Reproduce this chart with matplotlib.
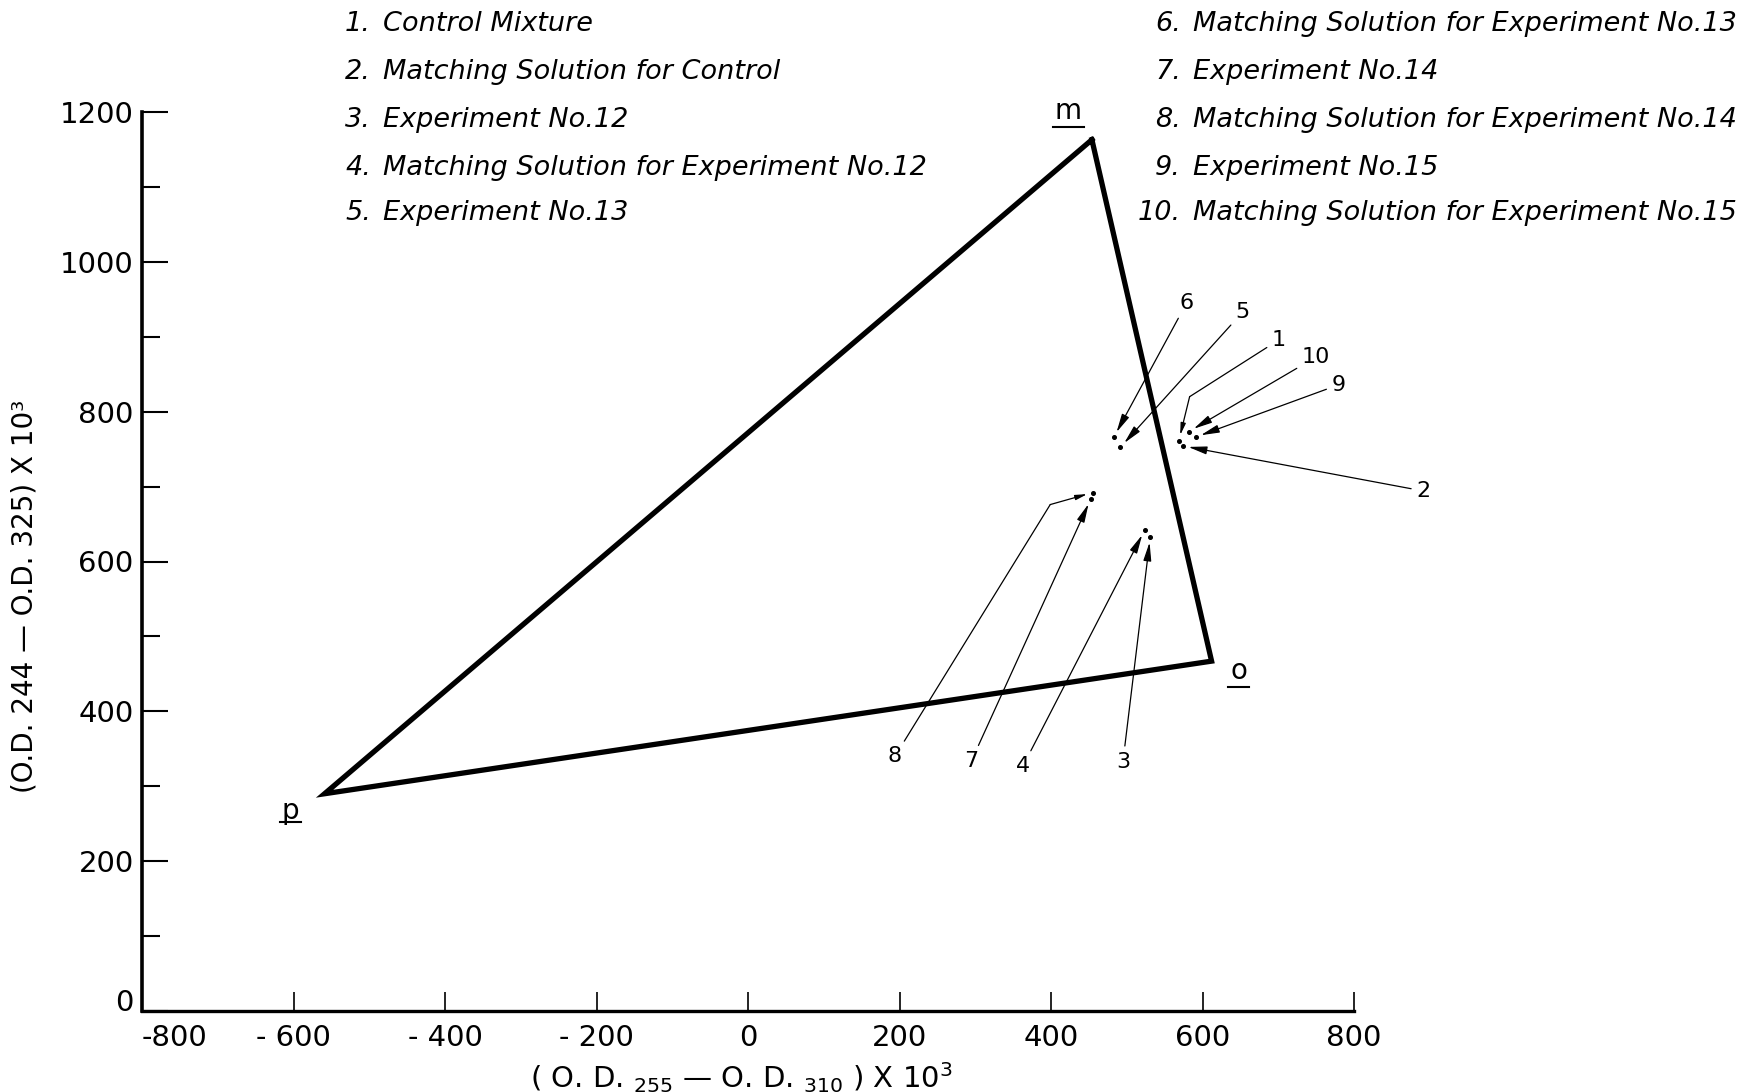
import matplotlib
matplotlib.use("Agg")
import matplotlib.pyplot as plt
from matplotlib.lines import Line2D

# ---- data ----
vertex_names = ["m", "o", "p"]
vertex_x = [454, 612, -559]
vertex_y = [1163, 467, 290]
vertex_label_x = [423, 648, -604]
vertex_label_y = [1190, 443, 256]

point_ids = ["1", "2", "3", "4", "5", "6", "7", "8", "9", "10"]
point_x = [568.8, 574.0, 531.0, 523.7, 491.7, 483.0, 452.6, 455.0, 590.8, 582.0]
point_y = [761.4, 754.3, 633.0, 642.0, 752.6, 766.0, 683.6, 692.0, 766.0, 773.4]
label_x = [701, 892, 495, 363, 653, 579, 295, 194, 780, 750]
label_y = [896, 694, 333, 327, 933, 945, 334, 340, 836, 873]
# bend points for leader lines that are not straight (None = straight)
bend_x = [583, None, None, None, None, None, None, 399, None, None]
bend_y = [820, None, None, None, None, None, None, 676, None, None]

legend_left = ["Control Mixture", "Matching Solution for Control", "Experiment No.12",
               "Matching Solution for Experiment No.12", "Experiment No.13"]
legend_right = ["Matching Solution for Experiment No.13", "Experiment No.14",
                "Matching Solution for Experiment No.14", "Experiment No.15",
                "Matching Solution for Experiment No.15"]

x_ticks = [-800, -600, -400, -200, 0, 200, 400, 600, 800]
x_tick_labels = ["-800", "- 600", "- 400", "- 200", "0", "200", "400", "600", "800"]
y_ticks = [0, 200, 400, 600, 800, 1000, 1200]
y_tick_labels = ["0", "200", "400", "600", "800", "1000", "1200"]
y_minor = [100, 300, 500, 700, 900, 1100]

# ---- figure ----
W, H = 1751, 1092
fig = plt.figure(figsize=(W / 100, H / 100), dpi=100)
ax = fig.add_axes([142 / W, 1 - 1011 / H, (1354 - 142) / W, (1011 - 112) / H])
ax.set_xlim(-800, 800)
ax.set_ylim(0, 1200)

for s in ["top", "right"]:
    ax.spines[s].set_visible(False)
ax.spines["left"].set_linewidth(2.6)
ax.spines["bottom"].set_linewidth(2.4)

ax.set_xticks(x_ticks)
ax.set_xticklabels(x_tick_labels)
ax.set_yticks(y_ticks)
ax.set_yticklabels(y_tick_labels)
ax.set_yticks(y_minor, minor=True)
ax.tick_params(axis="x", direction="in", length=14, width=1.2, pad=9, labelsize=21)
ax.tick_params(axis="y", which="major", direction="in", length=19, width=1.5, pad=6, labelsize=21)
ax.tick_params(axis="y", which="minor", direction="in", length=13, width=1.5)
# the first x label sits to the right of the corner, as in the original
ax.get_xticklabels()[0].set_horizontalalignment("left")
ax.get_yticklabels()[0].set_verticalalignment("baseline")

# triangle
tx = vertex_x + [vertex_x[0]]
ty = vertex_y + [vertex_y[0]]
ax.plot(tx, ty, color="black", lw=3.8, solid_joinstyle="miter", clip_on=False)

vtexts = []
for name, lx, ly in zip(vertex_names, vertex_label_x, vertex_label_y):
    vtexts.append(ax.text(lx, ly, name, fontsize=20, ha="center", va="baseline"))

# points
ax.plot(point_x, point_y, "o", color="black", markersize=2.6, clip_on=False)

arrow_kw = dict(arrowstyle="-|>,head_length=0.7,head_width=0.15", color="black",
                lw=0.9, shrinkA=2, shrinkB=4)
line_kw = dict(arrowstyle="-", color="black", lw=0.9, shrinkA=2, shrinkB=0)
for pid, px, py, lx, ly, bx, by in zip(point_ids, point_x, point_y,
                                       label_x, label_y, bend_x, bend_y):
    if bx is None:
        ax.annotate(pid, xy=(px, py), xytext=(lx, ly), fontsize=16,
                    ha="center", va="center", arrowprops=arrow_kw,
                    annotation_clip=False)
    else:
        ax.annotate(pid, xy=(bx, by), xytext=(lx, ly), fontsize=16,
                    ha="center", va="center", arrowprops=line_kw,
                    annotation_clip=False)
        ax.annotate("", xy=(px, py), xytext=(bx, by),
                    arrowprops=dict(arrow_kw, shrinkA=0),
                    annotation_clip=False)

# legend text blocks
row_y = [24, 72, 120, 168, 213]
LF = 19.5
for i, txt in enumerate(legend_left):
    fy = 1 - row_y[i] / H
    fig.text(371 / W, fy, f"{i + 1}.", fontsize=LF, style="italic", ha="right", va="center")
    fig.text(383 / W, fy, txt, fontsize=LF, style="italic", ha="left", va="center")
for i, txt in enumerate(legend_right):
    fy = 1 - row_y[i] / H
    fig.text(1181 / W, fy, f"{i + 6}.", fontsize=LF, style="italic", ha="right", va="center")
    fig.text(1193 / W, fy, txt, fontsize=LF, style="italic", ha="left", va="center")

# axis titles
fig.text(741 / W, 1 - 1078 / H, r"( O. D. $_{255}$ — O. D. $_{310}$ ) X 10$^3$",
         fontsize=21, ha="center", va="center")
fig.text(25 / W, 1 - 596 / H, "(O.D. 244 — O.D. 325) X 10³",
         fontsize=20, ha="center", va="center", rotation=90)

# underline the vertex letters (p's underline crosses its descender)
fig.canvas.draw()
r = fig.canvas.get_renderer()
for name, t in zip(vertex_names, vtexts):
    bb = t.get_window_extent(r)
    if name == "p":
        yy = bb.y0 + 3
    else:
        yy = bb.y0 - 2
    fig.add_artist(Line2D([bb.x0 - 2, bb.x1 + 2], [yy, yy], transform=None,
                          color="black", lw=1.5))

fig.savefig("out.png", dpi=100, facecolor="white")
